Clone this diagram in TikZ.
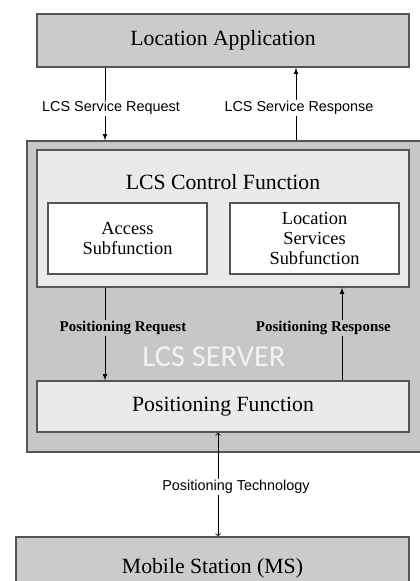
\documentclass[tikz,border=0pt]{standalone}
\usepackage{fontspec}
\setmainfont{Liberation Serif}
\newfontfamily\labelsans{Liberation Sans}
\newfontfamily\serversans{Carlito}
\usetikzlibrary{shapes,arrows}
\definecolor{boxgray}{RGB}{204,202,202}
\definecolor{srvgray}{RGB}{200,199,199}
\definecolor{lightbox}{RGB}{234,234,234}
\definecolor{edgegray}{RGB}{85,85,85}
\tikzset{
	block/.style    = {draw=edgegray, line width=1.1pt, rectangle, inner sep=0pt,
		font=\fontsize{16.3}{20}\selectfont},
	outer/.style    = {block, fill=boxgray},
	server/.style   = {block, fill=srvgray},
	inner/.style    = {block, fill=lightbox},
	subbox/.style   = {block, fill=white, align=center,
		font=\fontsize{13.8}{15}\selectfont},
	msglabel/.style = {fill=white, inner sep=1pt,
		font=\labelsans\fontsize{10.8}{12}\selectfont},
	poslabel/.style = {fill=srvgray, inner sep=1pt,
		font=\bfseries\fontsize{11.2}{12}\selectfont}
}

\begin{document}
\begin{tikzpicture}[x=0.75pt, y=-0.75pt, line width=0.6pt, >=latex]
	\useasboundingbox (0,0) rectangle (419,581);
	\draw
	node at (223,40.5)[outer, minimum width=279pt, minimum height=39.75pt] (app) {Location Application}
	node at (225,296.5)[server, minimum width=297pt, minimum height=233.25pt] (srv) {}
	node at (223,218.5)[inner, minimum width=279pt, minimum height=102.75pt] (ctrl) {}
	node at (223,182)[font=\fontsize{16.3}{20}\selectfont] (ctrltitle) {LCS Control Function}
	node at (127.5,238.5)[subbox, minimum width=119.25pt, minimum height=53.25pt] (access) {Access\\Subfunction}
	node at (314.5,238.5)[subbox, minimum width=126.75pt, minimum height=53.25pt] (locsvc) {Location\\Services\\Subfunction}
	node at (223,406.5)[inner, minimum width=279pt, minimum height=38.25pt] (posfn) {Positioning Function}
	node at (212.5,568.5)[outer, minimum width=294.75pt, minimum height=47.25pt] (ms) {Mobile Station (MS)};
	
	\draw node at (214,357)[text=white!95!black, font=\serversans\fontsize{22.8}{24}\selectfont] (srvname) {LCS SERVER};
	
	\coordinate (left) at (105,0);
	\coordinate (right) at (296,0);
	\coordinate (posright) at (342,0);
	\coordinate (mid) at (218,0);
	
	\draw[->](app.south -| left) -- node[msglabel, xshift=4.5pt, yshift=-3pt] {LCS Service Request} (srv.north -| left);
	\draw[->](srv.north -| right) -- node[msglabel, xshift=2.25pt, yshift=-3pt] {LCS Service Response} (app.south -| right);
	\draw[->](ctrl.south -| left) -- node[poslabel, xshift=13.5pt, yshift=4.5pt] {Positioning Request} (posfn.north -| left);
	\draw[->](posfn.north -| posright) -- node[poslabel, xshift=-14pt, yshift=4.5pt] {Positioning Response} (ctrl.south -| posright);
	\draw[<->, >=to](posfn.south -| mid) -- node[msglabel, xshift=13.5pt, yshift=-2pt] {Positioning Technology} (ms.north -| mid);
\end{tikzpicture}
\end{document}
